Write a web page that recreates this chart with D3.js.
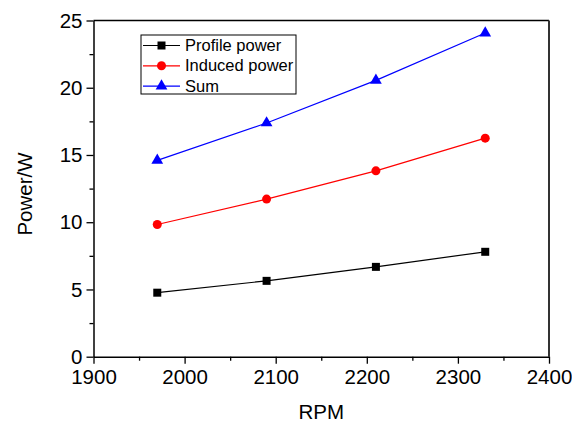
<!DOCTYPE html>
<html>
<head>
<meta charset="utf-8">
<script src="https://cdn.jsdelivr.net/npm/d3@7"></script>
<style>
  body { margin: 0; background: #fff; }
  svg { display: block; font-family: "Liberation Sans", Arial, sans-serif; }
</style>
</head>
<body>
<div id="chart"></div>
<script>
// data
const rpm = [1970, 2090, 2210, 2330];
const profilePower = [4.76, 5.64, 6.68, 7.8];
const inducedPower = [9.83, 11.72, 13.82, 16.25];
const sumPower = [14.6, 17.38, 20.55, 24.07];
const xTicks = [1900, 2000, 2100, 2200, 2300, 2400];
const yTicks = [0, 5, 10, 15, 20, 25];
const seriesNames = ["Profile power", "Induced power", "Sum"];
const seriesColors = ["#000000", "#ff0000", "#0000ff"];

const width = 572;
const height = 423;
const margin = { top: 20.5, right: 23, bottom: 66.3, left: 93.5 };
const plotW = width - margin.left - margin.right;
const plotH = height - margin.top - margin.bottom;

const svg = d3
  .select("#chart")
  .append("svg")
  .attr("width", width)
  .attr("height", height);

const g = svg
  .append("g")
  .attr("transform", `translate(${margin.left},${margin.top})`);

const x = d3.scaleLinear().domain([1900, 2400]).range([0, plotW]);
const y = d3.scaleLinear().domain([0, 25]).range([plotH, 0]);

// frame (top / right, no ticks)
g.append("line")
  .attr("x1", 0).attr("x2", plotW).attr("y1", 0).attr("y2", 0)
  .attr("stroke", "#000").attr("stroke-width", 1.5);
g.append("line")
  .attr("x1", plotW).attr("x2", plotW).attr("y1", 0).attr("y2", plotH)
  .attr("stroke", "#333").attr("stroke-width", 2);

// minor ticks
const xMinor = d3.range(1950, 2400, 100);
const yMinor = d3.range(2.5, 25, 5);
g.append("g")
  .attr("transform", `translate(0,${plotH})`)
  .call(d3.axisBottom(x).tickValues(xMinor).tickSize(4).tickFormat(""))
  .call((a) => a.select(".domain").remove())
  .selectAll("line").attr("stroke-width", 1.3);
g.append("g")
  .call(d3.axisLeft(y).tickValues(yMinor).tickSize(4).tickFormat(""))
  .call((a) => a.select(".domain").remove())
  .selectAll("line").attr("stroke-width", 1.3);

// major axes
const xAxis = g
  .append("g")
  .attr("transform", `translate(0,${plotH})`)
  .call(
    d3.axisBottom(x).tickValues(xTicks).tickFormat(d3.format("d"))
      .tickSize(7).tickSizeOuter(0).tickPadding(6)
  );
const yAxis = g
  .append("g")
  .call(d3.axisLeft(y).tickValues(yTicks).tickSize(7).tickSizeOuter(0).tickPadding(4));

[xAxis, yAxis].forEach((a) => {
  a.select(".domain").attr("stroke-width", 1.5);
  a.selectAll(".tick line").attr("stroke-width", 1.3);
  a.selectAll("text")
    .style("font-size", "20.5px")
    .style("font-family", "Liberation Sans, Arial, sans-serif")
    .attr("fill", "#000");
});

// axis titles
svg
  .append("text")
  .attr("x", margin.left + plotW / 2)
  .attr("y", 419)
  .attr("text-anchor", "middle")
  .style("font-size", "20.5px")
  .text("RPM");

svg
  .append("text")
  .attr("transform", `translate(32,194) rotate(-90)`)
  .attr("text-anchor", "middle")
  .style("font-size", "20.5px")
  .text("Power/W");

// series
const allSeries = [profilePower, inducedPower, sumPower];
const line = d3
  .line()
  .x((d, i) => x(rpm[i]))
  .y((d) => y(d));

const symbols = [d3.symbolSquare, d3.symbolCircle, d3.symbolTriangle];
const symbolSizes = [64, 64, 60];

allSeries.forEach((vals, k) => {
  g.append("path")
    .datum(vals)
    .attr("fill", "none")
    .attr("stroke", seriesColors[k])
    .attr("stroke-width", 1.2)
    .attr("d", line);

  g.selectAll(`.pt${k}`)
    .data(vals)
    .enter()
    .append("path")
    .attr("class", `pt${k}`)
    .attr("transform", (d, i) => `translate(${x(rpm[i])},${y(d)})`)
    .attr("d", d3.symbol().type(symbols[k]).size(symbolSizes[k]))
    .attr("fill", seriesColors[k]);
});

// legend
const legend = svg.append("g").attr("transform", "translate(141,35)");
legend
  .append("rect")
  .attr("width", 155)
  .attr("height", 59)
  .attr("fill", "#fff")
  .attr("stroke", "#000")
  .attr("stroke-width", 1);

seriesNames.forEach((name, k) => {
  const row = legend.append("g").attr("transform", `translate(0,${10.5 + k * 20.3})`);
  row.append("line")
    .attr("x1", 2).attr("x2", 39).attr("y1", 0).attr("y2", 0)
    .attr("stroke", seriesColors[k]).attr("stroke-width", 1.2);
  row.append("path")
    .attr("transform", "translate(20.5,0)")
    .attr("d", d3.symbol().type(symbols[k]).size(symbolSizes[k]))
    .attr("fill", seriesColors[k]);
  row.append("text")
    .attr("x", 44)
    .attr("y", 5.5)
    .style("font-size", "16.5px")
    .text(name);
});
</script>
</body>
</html>
